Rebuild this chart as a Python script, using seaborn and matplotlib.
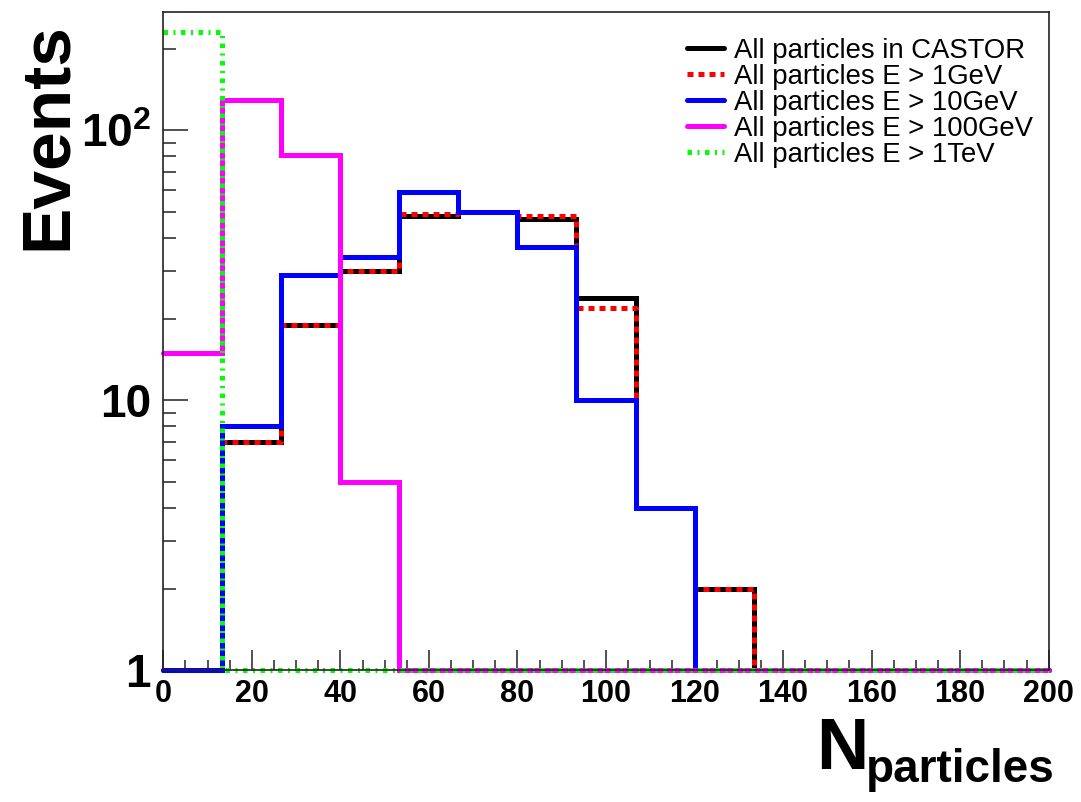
import numpy as np
import pandas as pd
import matplotlib
matplotlib.use("Agg")
import matplotlib.pyplot as plt
import seaborn as sns
from matplotlib.ticker import FixedLocator, MultipleLocator, NullFormatter

# ---------------- data ----------------
bin_edges = np.linspace(0, 200, 16)          # 15 bins of width 13.33
all_castor = [0, 7, 19, 30, 48, 50, 47, 24, 4, 2, 0, 0, 0, 0, 0]
e_gt_1gev = [0, 7, 19, 30, 49, 50, 48, 22, 4, 2, 0, 0, 0, 0, 0]
e_gt_10gev = [0, 8, 29, 34, 59, 50, 37, 10, 4, 0, 0, 0, 0, 0, 0]
e_gt_100gev = [15, 130, 81, 5, 0, 0, 0, 0, 0, 0, 0, 0, 0, 0, 0]
e_gt_1tev = [231, 0, 0, 0, 0, 0, 0, 0, 0, 0, 0, 0, 0, 0, 0]

labels = ["All particles in CASTOR", "All particles E > 1GeV",
          "All particles E > 10GeV", "All particles E > 100GeV",
          "All particles E > 1TeV"]
series = [all_castor, e_gt_1gev, e_gt_10gev, e_gt_100gev, e_gt_1tev]
colors = ["#000000", "#ff0000", "#0000ff", "#ff00ff", "#00ff00"]
styles = ["-", (0, (1.2, 1.0)), "-", "-", (0, (0.9, 1.1, 0.4, 1.1))]

x_ticks = [0, 20, 40, 60, 80, 100, 120, 140, 160, 180, 200]
y_ticks = [1, 10, 100]
y_ticklabels = ["1", "10", "10$^{2}$"]

# ---------------- style ----------------
sns.set_style("white")
plt.rcParams["font.family"] = ["Liberation Sans", "DejaVu Sans"]
plt.rcParams["mathtext.fontset"] = "custom"
plt.rcParams["mathtext.rm"] = "Liberation Sans:bold"
plt.rcParams["mathtext.bf"] = "Liberation Sans:bold"
plt.rcParams["mathtext.it"] = "Liberation Sans:bold"
plt.rcParams["text.color"] = "black"
plt.rcParams["xtick.labelcolor"] = "black"
plt.rcParams["ytick.labelcolor"] = "black"

W, H = 1081, 802
fig = plt.figure(figsize=(W / 100, H / 100), dpi=100)
ax = fig.add_axes([163.3 / W, 1 - 670.3 / H, 885.4 / W, 658.6 / H])

lw = 3.6
for vals, lab, col, ls in zip(series, labels, colors, styles):
    v = np.clip(np.asarray(vals, dtype=float), 1, None)
    df = pd.DataFrame({"x": bin_edges, "y": np.append(v, v[-1])})
    sns.lineplot(data=df, x="x", y="y", ax=ax, color=col, linewidth=lw,
                 linestyle=ls, drawstyle="steps-post", errorbar=None,
                 label=lab, clip_on=False, solid_joinstyle="miter")

ax.set_yscale("log")
ax.set_xlim(0, 200)
ax.set_ylim(1, 275)
ax.set_xlabel("")
ax.set_ylabel("")

ax.xaxis.set_major_locator(FixedLocator(x_ticks))
ax.xaxis.set_minor_locator(MultipleLocator(5))
ax.set_xticklabels([str(t) for t in x_ticks], fontsize=22, fontweight="bold",
                   color="black")
ax.yaxis.set_major_locator(FixedLocator(y_ticks))
minors = [m * d for d in (1, 10, 100) for m in range(2, 10) if m * d < 275]
ax.yaxis.set_minor_locator(FixedLocator(minors))
ax.yaxis.set_minor_formatter(NullFormatter())
ax.set_yticklabels(y_ticklabels, fontsize=33, fontweight="bold", color="black")

ax.tick_params(axis="x", which="major", direction="in", length=14.5, width=1.1,
               pad=6, bottom=True, top=False, color="#222222")
ax.tick_params(axis="x", which="minor", direction="in", length=7, width=1.1,
               bottom=True, top=False, color="#222222")
ax.tick_params(axis="y", which="major", direction="in", length=18, width=1.1,
               pad=9, left=True, right=False, color="#222222")
ax.tick_params(axis="y", which="minor", direction="in", length=9, width=1.1,
               left=True, right=False, color="#222222")
for sp in ax.spines.values():
    sp.set_linewidth(1.2)
    sp.set_color("#222222")

leg = ax.legend(loc="upper left", bbox_to_anchor=(687 / W, 1 - 38 / H),
                bbox_transform=fig.transFigure, frameon=False, fontsize=19.8,
                handlelength=1.35, handletextpad=0.35, labelspacing=0.0,
                borderpad=0, borderaxespad=0)
for line in leg.get_lines():
    line.set_linewidth(lw)
for t in leg.get_texts():
    t.set_color("black")

# axis titles
fig.text(80 / W, 1 - 136 / H, "Events", rotation=90, ha="right", va="center",
         fontsize=50, fontweight="bold", color="black")
fig.text(816 / W, 1 - 769 / H, "N", ha="left", va="baseline",
         fontsize=52, fontweight="bold", color="black")
fig.text(866 / W, 1 - 782 / H, "particles", ha="left", va="baseline",
         fontsize=33, fontweight="bold", color="black")

fig.savefig("out.png", dpi=100)
